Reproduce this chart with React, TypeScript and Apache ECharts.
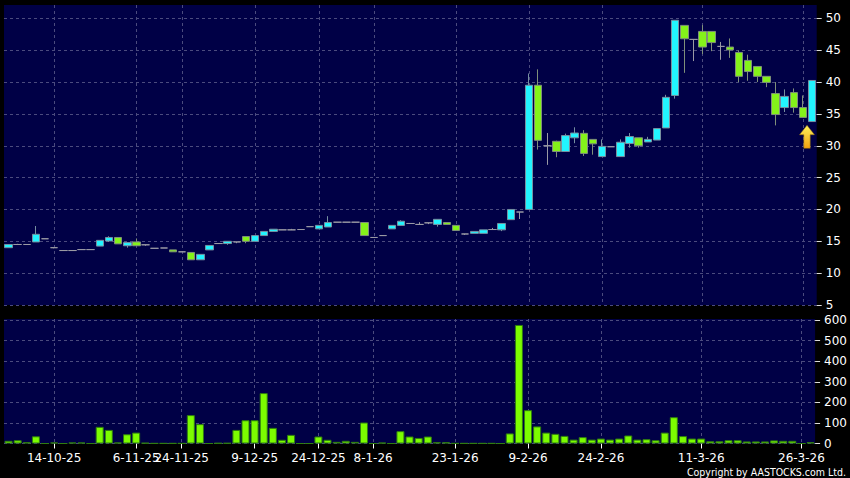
import React, { useEffect, useRef } from 'react';
import * as echarts from 'echarts';

// One slot per trading session shown on the chart (89 sessions)
const categories: string[] = [
  '0','1','2','3','4','5','6','7','8','9','10','11','12','13','14','15','16','17','18','19',
  '20','21','22','23','24','25','26','27','28','29','30','31','32','33','34','35','36','37','38','39',
  '40','41','42','43','44','45','46','47','48','49','50','51','52','53','54','55','56','57','58','59',
  '60','61','62','63','64','65','66','67','68','69','70','71','72','73','74','75','76','77','78','79',
  '80','81','82','83','84','85','86','87','88',
];

// x-axis date labels and the session slot they sit on
const tickIndex = [5, 14, 19, 27, 34, 40, 49, 57, 65, 76, 87];
const tickLabels = ['14-10-25', '6-11-25', '24-11-25', '9-12-25', '24-12-25', '8-1-26', '23-1-26', '9-2-26', '24-2-26', '11-3-26', '26-3-26'];

const priceTicks = [5, 10, 15, 20, 25, 30, 35, 40, 45, 50];
const volumeTicks = [0, 100, 200, 300, 400, 500, 600];

// [open, close, low, high]
const ohlc: number[][] = [
  [14.0, 14.5, 14.0, 14.5],
  [14.5, 14.5, 14.5, 14.6],
  [14.5, 14.5, 14.5, 14.5],
  [14.9, 16.1, 14.9, 17.4],
  [15.4, 15.4, 15.4, 15.4],
  [14.0, 14.0, 13.9, 14.0],
  [13.55, 13.55, 13.55, 13.55],
  [13.55, 13.55, 13.5, 13.6],
  [13.7, 13.7, 13.7, 13.7],
  [13.7, 13.7, 13.7, 13.7],
  [14.25, 15.15, 14.25, 15.15],
  [15.05, 15.6, 14.9, 15.8],
  [15.6, 14.6, 14.6, 15.6],
  [14.3, 14.8, 14.0, 14.8],
  [14.9, 14.3, 14.3, 15.45],
  [14.45, 14.45, 14.3, 14.45],
  [13.9, 13.9, 13.9, 13.9],
  [13.95, 13.95, 13.95, 13.95],
  [13.65, 13.35, 13.35, 13.65],
  [13.35, 13.35, 13.35, 13.35],
  [13.25, 12.1, 12.1, 13.25],
  [12.1, 12.95, 12.1, 12.95],
  [13.65, 14.35, 13.65, 14.35],
  [14.65, 14.65, 14.65, 14.65],
  [14.65, 15.0, 14.45, 15.0],
  [14.9, 14.9, 14.7, 14.9],
  [15.75, 15.0, 14.7, 15.75],
  [15.0, 15.9, 15.0, 15.9],
  [15.9, 16.55, 15.9, 16.55],
  [16.55, 16.9, 16.55, 16.9],
  [16.8, 16.8, 16.8, 16.8],
  [16.8, 16.8, 16.8, 16.95],
  [16.85, 16.85, 16.85, 16.85],
  [17.3, 17.3, 17.3, 17.3],
  [16.95, 17.5, 16.95, 17.5],
  [17.25, 17.95, 17.25, 18.95],
  [18.0, 18.0, 18.0, 18.0],
  [18.0, 18.0, 18.0, 18.0],
  [18.0, 18.0, 18.0, 18.0],
  [17.95, 15.9, 15.9, 17.95],
  [15.6, 15.6, 15.6, 15.6],
  [15.9, 15.9, 15.9, 15.9],
  [16.95, 17.5, 16.95, 17.5],
  [17.5, 18.15, 17.5, 18.3],
  [17.8, 17.8, 17.8, 17.8],
  [17.65, 17.65, 17.65, 18.0],
  [17.9, 17.9, 17.7, 17.9],
  [17.65, 18.45, 17.3, 18.45],
  [17.95, 17.65, 17.65, 17.95],
  [17.5, 16.7, 16.7, 17.5],
  [16.15, 16.15, 16.0, 16.15],
  [16.25, 16.55, 16.25, 16.55],
  [16.25, 16.8, 16.25, 16.8],
  [16.85, 16.85, 16.85, 17.1],
  [16.8, 17.8, 16.6, 17.8],
  [18.4, 20.0, 18.4, 20.0],
  [19.6, 19.6, 18.5, 19.6],
  [20.0, 39.5, 20.0, 41.35],
  [39.5, 30.85, 29.4, 42.0],
  [30.0, 30.0, 27.0, 32.0],
  [30.7, 29.1, 28.2, 30.8],
  [29.1, 31.6, 29.1, 31.9],
  [31.25, 32.0, 30.4, 32.9],
  [31.95, 28.8, 28.4, 32.45],
  [31.0, 30.3, 28.6, 31.0],
  [28.3, 29.9, 28.3, 31.0],
  [29.85, 29.85, 29.85, 29.85],
  [28.3, 30.55, 28.3, 31.0],
  [30.35, 31.45, 29.7, 32.0],
  [31.25, 30.0, 29.7, 31.25],
  [30.6, 31.0, 30.6, 31.4],
  [30.9, 32.7, 30.9, 32.7],
  [32.8, 37.6, 32.8, 38.0],
  [37.9, 49.7, 37.4, 49.7],
  [48.9, 46.8, 41.45, 48.9],
  [46.7, 46.7, 43.3, 46.7],
  [47.95, 45.5, 44.4, 48.95],
  [47.95, 46.2, 44.85, 47.95],
  [45.6, 45.6, 43.5, 46.3],
  [45.5, 45.05, 43.8, 46.85],
  [44.65, 40.9, 40.0, 44.95],
  [43.4, 41.65, 40.2, 44.3],
  [42.45, 40.9, 40.0, 42.45],
  [40.9, 39.95, 39.2, 40.9],
  [38.2, 34.9, 33.2, 40.0],
  [36.0, 37.75, 35.3, 38.85],
  [38.35, 36.0, 35.2, 39.0],
  [36.0, 34.45, 34.45, 37.9],
  [33.8, 40.25, 33.8, 40.25],
];

const volumes: number[] = [
  13, 16, 6, 35, 0, 5, 0, 5, 5, 0,
  81, 66, 5, 45, 53, 3, 1, 1, 1, 1,
  138, 94, 0, 2, 2, 66, 113, 113, 245, 76,
  18, 42, 0, 0, 34, 18, 8, 13, 8, 102,
  0, 4, 0, 60, 34, 27, 34, 6, 6, 1,
  1, 1, 1, 1, 0, 49, 576, 162, 83, 53,
  47, 37, 19, 31, 19, 24, 19, 24, 39, 19,
  21, 16, 53, 128, 36, 24, 24, 11, 11, 16,
  16, 10, 10, 10, 15, 13, 13, 0, 6,
];

// arrow annotation: session slot and price level
const arrowAt = { index: 87, price: 31.4 };

const FONT = "'DejaVu Sans', sans-serif";
const GRID_COLOR = '#4b4b7e';
const PANEL = '#000046';

export default function App() {
  const ref = useRef<HTMLDivElement>(null);

  useEffect(() => {
    document.body.style.margin = '0';
    if (!ref.current) return;
    const chart = echarts.init(ref.current, null, { renderer: 'svg' });

    const isTick = (i: number) => tickIndex.indexOf(i) >= 0;
    const dashed = { color: GRID_COLOR, type: [3, 3] as any, width: 1 };

    const xBase = {
      type: 'category',
      data: categories,
      boundaryGap: true,
      axisLine: { show: false },
    };

    const option: any = {
      animation: false,
      backgroundColor: '#000000',
      grid: [
        { left: 4, top: 5, width: 812.7, height: 300, show: true, backgroundColor: PANEL, borderWidth: 0 },
        { left: 4, top: 319, width: 812.7, height: 124.5, show: true, backgroundColor: PANEL, borderWidth: 0 },
      ],
      xAxis: [
        {
          ...xBase,
          gridIndex: 0,
          axisTick: { show: false },
          axisLabel: { show: false },
          splitLine: { show: true, interval: (i: number) => isTick(i), alignWithLabel: true, lineStyle: dashed },
        },
        {
          ...xBase,
          gridIndex: 1,
          axisTick: {
            show: true,
            interval: (i: number) => isTick(i),
            alignWithLabel: true,
            length: 5,
            lineStyle: { color: '#ffffff' },
          },
          axisLabel: {
            show: true,
            interval: (i: number) => isTick(i),
            formatter: (_v: string, i: number) => {
              const k = tickIndex.indexOf(i);
              return k >= 0 ? tickLabels[k] : '';
            },
            color: '#ffffff',
            fontFamily: FONT,
            fontSize: 12,
            margin: 8,
          },
          splitLine: { show: true, interval: (i: number) => isTick(i), alignWithLabel: true, lineStyle: dashed },
        },
      ],
      yAxis: [
        {
          type: 'value',
          gridIndex: 0,
          position: 'right',
          min: 5,
          max: 52.1,
          interval: 5,
          axisLine: { show: false },
          axisTick: { show: true, length: 5, customValues: priceTicks, lineStyle: { color: '#dddddd' } },
          axisLabel: { customValues: priceTicks, color: '#ffffff', fontFamily: FONT, fontSize: 12, margin: 9 },
          splitLine: { show: true, lineStyle: dashed },
        },
        {
          type: 'value',
          gridIndex: 1,
          position: 'right',
          min: 0,
          max: 605,
          interval: 100,
          axisLine: { show: false },
          axisTick: { show: true, length: 5, customValues: volumeTicks, lineStyle: { color: '#dddddd' } },
          axisLabel: { customValues: volumeTicks, color: '#ffffff', fontFamily: FONT, fontSize: 12, margin: 9 },
          splitLine: { show: true, lineStyle: dashed },
        },
      ],
      series: [
        {
          type: 'candlestick',
          xAxisIndex: 0,
          yAxisIndex: 0,
          barWidth: 8,
          data: ohlc,
          itemStyle: {
            color: '#22f4ff',
            color0: '#84f21a',
            borderColor: '#7690a0',
            borderColor0: '#7f907a',
            borderColorDoji: '#9a9aa4',
            borderWidth: 1,
          },
          markPoint: {
            silent: true,
            symbol: 'path://M7,0 L14,9 L10,9 L10,22 L4,22 L4,9 L0,9 Z',
            symbolSize: [15, 23],
            symbolOffset: [4, 0],
            label: { show: false },
            itemStyle: {
              color: new echarts.graphic.LinearGradient(0, 0, 0, 1, [
                { offset: 0, color: '#fff35a' },
                { offset: 1, color: '#f0a010' },
              ]),
              borderColor: '#8a6a10',
              borderWidth: 0.5,
            },
            data: [{ coord: [arrowAt.index, arrowAt.price] }],
          },
        },
        {
          type: 'bar',
          xAxisIndex: 1,
          yAxisIndex: 1,
          barWidth: 8,
          data: volumes,
          itemStyle: { color: '#7cfc00', borderColor: '#2f7d10', borderWidth: 1 },
        },
      ],
      graphic: [
        {
          type: 'text',
          right: 4,
          bottom: 1,
          style: {
            text: 'Copyright by AASTOCKS.com Ltd.',
            fill: '#ffffff',
            font: "10.5px 'DejaVu Sans Condensed', 'DejaVu Sans', sans-serif",
          },
        },
      ],
    };

    chart.setOption(option);
    return () => chart.dispose();
  }, []);

  return <div ref={ref} style={{ width: 850, height: 478 }} />;
}
